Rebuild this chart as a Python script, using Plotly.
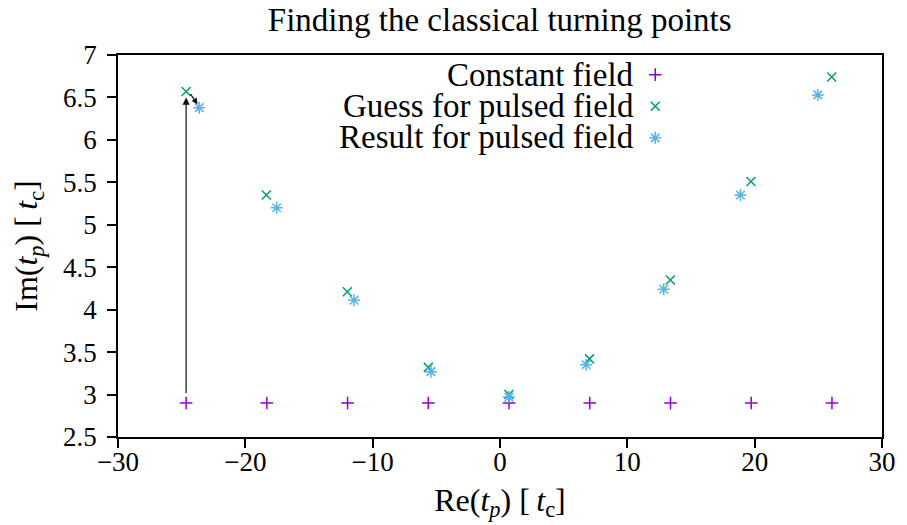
import plotly.graph_objects as go

# Data
const_x = [-24.65, -18.31, -11.97, -5.63, 0.71, 7.05, 13.39, 19.73, 26.07]
const_y = [2.9] * 9
guess_x = [-24.65, -18.35, -11.99, -5.63, 0.70, 7.03, 13.38, 19.71, 26.05]
guess_y = [6.57, 5.35, 4.21, 3.32, 3.00, 3.42, 4.35, 5.51, 6.74]
result_x = [-23.62, -17.54, -11.47, -5.42, 0.70, 6.76, 12.86, 18.88, 24.96]
result_y = [6.38, 5.20, 4.11, 3.27, 2.97, 3.35, 4.24, 5.35, 6.53]

legend_names = ["Constant field", "Guess for pulsed field", "Result for pulsed field"]
colors = ["#9400d3", "#009e73", "#56b4e9"]

x_ticks = [-30, -20, -10, 0, 10, 20, 30]
x_ticktext = ["\u221230", "\u221220", "\u221210", "0", "10", "20", "30"]
y_ticks = [2.5, 3, 3.5, 4, 4.5, 5, 5.5, 6, 6.5, 7]
y_ticktext = ["2.5", "3", "3.5", "4", "4.5", "5", "5.5", "6", "6.5", "7"]

FONT = "Liberation Serif"

fig = go.Figure()
fig.add_trace(go.Scatter(x=const_x, y=const_y, mode="markers", name="",
                         marker=dict(symbol="cross-thin", size=9, line=dict(color=colors[0], width=1.5))))
fig.add_trace(go.Scatter(x=guess_x, y=guess_y, mode="markers", name="",
                         marker=dict(symbol="x-thin", size=9, line=dict(color=colors[1], width=1.5))))
fig.add_trace(go.Scatter(x=result_x, y=result_y, mode="markers", name="",
                         marker=dict(symbol="asterisk", size=10, line=dict(color=colors[2], width=1.5))))

# arrows
fig.add_annotation(x=const_x[0], y=6.5, ax=const_x[0], ay=3.0, xref="x", yref="y",
                   axref="x", ayref="y", showarrow=True, arrowhead=2, arrowsize=1.2,
                   arrowwidth=1.2, arrowcolor="#111", text="")
fig.add_annotation(x=-23.75, y=6.42, ax=-24.4, ay=6.56, xref="x", yref="y",
                   axref="x", ayref="y", showarrow=True, arrowhead=2, arrowsize=1.0,
                   arrowwidth=1.2, arrowcolor="#111", text="")

# legend texts (right aligned; the symbols come from the legend, placed to the right)
ys = [0.9476, 0.8663, 0.785]
for name, yy in zip(legend_names, ys):
    fig.add_annotation(x=0.678, y=yy, xref="paper", yref="paper", text=name,
                       showarrow=False, xanchor="right", yanchor="middle",
                       font=dict(family=FONT, size=33, color="black"))

axis_common = dict(showline=True, linecolor="black", linewidth=1.5, mirror=True,
                   ticks="outside", ticklen=9, tickwidth=1.5, tickcolor="black",
                   showgrid=False, zeroline=False, automargin=False,
                   tickfont=dict(family=FONT, size=27, color="black"))

fig.update_layout(
    width=899, height=517,
    margin=dict(l=110, r=25, t=47, b=88),
    plot_bgcolor="white", paper_bgcolor="white",
    title=dict(text="Finding the classical turning points", x=0.547, xanchor="center",
               y=0.977, yanchor="middle", font=dict(family=FONT, size=33, color="black")),
    xaxis=dict(range=[-30, 30], tickvals=x_ticks, ticktext=x_ticktext, ticklabelstandoff=-9,
               title=dict(text="Re(<i>t</i><sub><i>p</i></sub>) [\u2009<i>t</i><sub>c</sub>]",
                          font=dict(family=FONT, size=32, color="black"), standoff=12),
               **axis_common),
    yaxis=dict(range=[2.5, 7], tickvals=y_ticks, ticktext=y_ticktext, ticklabelstandoff=5,
               title=dict(text="Im(<i>t</i><sub><i>p</i></sub>) [\u2009<i>t</i><sub>c</sub>]",
                          font=dict(family=FONT, size=32, color="black"), standoff=24),
               **axis_common),
    showlegend=True,
    legend=dict(x=0.677, y=1.003, xanchor="left", yanchor="top", bgcolor="rgba(0,0,0,0)",
                font=dict(family=FONT, size=22), itemwidth=30, tracegroupgap=0),
)

fig.write_html("out.html")
